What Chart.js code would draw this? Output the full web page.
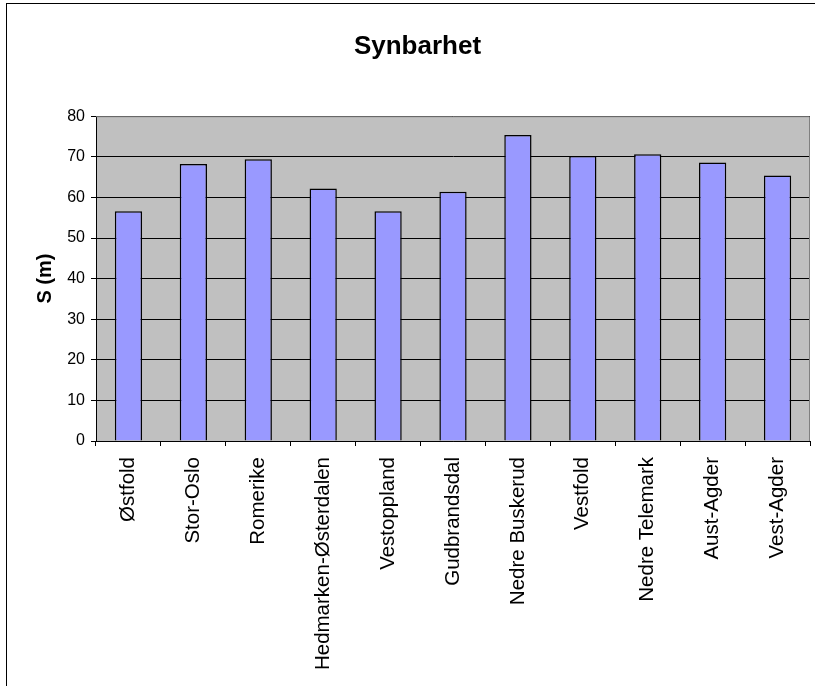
<!DOCTYPE html>
<html>
<head>
<meta charset="utf-8">
<script src="https://cdn.jsdelivr.net/npm/chart.js@4.4.1/dist/chart.umd.min.js"></script>
<style>
html,body{margin:0;padding:0;background:#fff;overflow:hidden;width:815px;height:686px;}
canvas{display:block;}
</style>
</head>
<body>
<canvas id="c" width="850" height="686"></canvas>
<script>
const chartTitle = "Synbarhet";
const yAxisTitle = "S (m)";
const categories = ["Østfold","Stor-Oslo","Romerike","Hedmarken-Østerdalen","Vestoppland","Gudbrandsdal","Nedre Buskerud","Vestfold","Nedre Telemark","Aust-Agder","Vest-Agder"];
const values = [56.6, 68.2, 69.4, 62.2, 56.6, 61.4, 75.4, 70.2, 70.6, 68.6, 65.4];
const yMin = 0, yMax = 80, yStep = 10;

const font = "'Liberation Sans', Arial, sans-serif";

const frame = {
  id: 'frame',
  beforeDraw(chart) {
    const {ctx, chartArea: a} = chart;
    ctx.save();
    ctx.fillStyle = '#fff';
    ctx.fillRect(0, 0, chart.width, chart.height);
    ctx.fillStyle = '#C0C0C0';
    ctx.fillRect(a.left, a.top, a.right - a.left, a.bottom - a.top);
    ctx.restore();
  },
  afterDraw(chart) {
    const {ctx, chartArea: a} = chart;
    ctx.save();
    ctx.strokeStyle = '#808080';
    ctx.lineWidth = 1;
    ctx.beginPath();
    ctx.moveTo(a.left, a.top + 0.5);
    ctx.lineTo(a.right - 0.5, a.top + 0.5);
    ctx.lineTo(a.right - 0.5, a.bottom);
    ctx.stroke();
    ctx.strokeStyle = '#000';
    ctx.strokeRect(6.5, 3.5, 1000, 1000);
    ctx.restore();
  }
};

new Chart(document.getElementById('c'), {
  type: 'bar',
  data: {
    labels: categories,
    datasets: [{
      data: values,
      backgroundColor: '#9999FF',
      borderColor: '#000',
      borderWidth: 1.5,
      barPercentage: 0.42,
      categoryPercentage: 1
    }]
  },
  options: {
    responsive: false,
    animation: false,
    layout: {padding: {left: 25, right: 40, top: 0, bottom: 0}},
    plugins: {
      legend: {display: false},
      tooltip: {enabled: false},
      title: {
        display: true,
        text: chartTitle,
        color: '#000',
        font: {family: font, size: 26, weight: 'bold', lineHeight: 1.2},
        padding: {top: 31, bottom: 54}
      }
    },
    scales: {
      x: {
        grid: {display: true, drawOnChartArea: false, color: '#000', tickLength: 5, offset: true},
        border: {display: true, color: '#000', width: 1},
        ticks: {color: '#000', font: {family: font, size: 20.5}, minRotation: 90, maxRotation: 90, padding: 11, autoSkip: false},
        afterFit(s) { s.height = 245; }
      },
      y: {
        min: yMin, max: yMax,
        grid: {color: '#000', tickColor: '#000', tickLength: 5, lineWidth: 1},
        border: {display: true, color: '#000', width: 1},
        ticks: {stepSize: yStep, color: '#000', font: {family: font, size: 16}, padding: 6},
        title: {display: true, text: yAxisTitle, color: '#000', font: {family: font, size: 20, weight: 'bold'}, padding: {top: 8, bottom: 4}},
        afterFit(s) { s.width = 71; }
      }
    }
  },
  plugins: [frame]
});
</script>
</body>
</html>
